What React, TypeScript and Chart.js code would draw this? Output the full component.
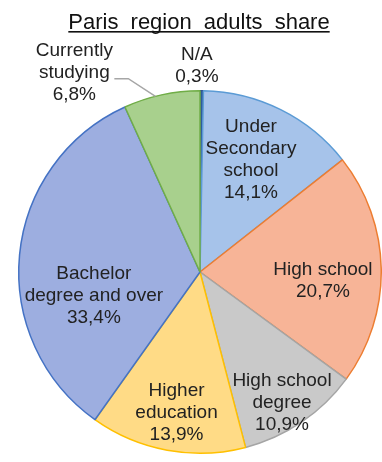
import React, { useEffect, useRef } from "react";
import { Chart, registerables } from "chart.js";

Chart.register(...registerables);

const title = "Paris region adults share";
const categories = [
  "N/A",
  "Under\nSecondary\nschool",
  "High school",
  "High school\ndegree",
  "Higher\neducation",
  "Bachelor\ndegree and over",
  "Currently\nstudying",
];
const values = [0.3, 14.1, 20.7, 10.9, 13.9, 33.4, 6.8];
const valueLabels = ["0,3%", "14,1%", "20,7%", "10,9%", "13,9%", "33,4%", "6,8%"];

const fillColors = ["#2E5C9E", "#A6C3EA", "#F7B497", "#C9C9C9", "#FFDB86", "#9DAEE0", "#A8D08D"];
const borderColors = ["#2F528F", "#5B9BD5", "#ED7D31", "#A5A5A5", "#FFC000", "#4472C4", "#70AD47"];
// label placement style: fraction of radius, angle offset (deg)
const labelRadius = [1.137, 0.68, 0.68, 0.85, 0.79, 0.6, 1.3];
const labelAngleOffset = [-1.4, -2, 5, 2, -1, -18, -20];

const labelPlugin = {
  id: "sliceLabels",
  afterDatasetsDraw(chart: any) {
    const ctx = chart.ctx as CanvasRenderingContext2D;
    const meta = chart.getDatasetMeta(0);
    ctx.save();
    ctx.font = "19px 'Liberation Sans', Arial, sans-serif";
    ctx.fillStyle = "#222222";
    ctx.textAlign = "center";
    ctx.textBaseline = "middle";
    const lh = 22;
    meta.data.forEach((arc: any, i: number) => {
      const p = arc.getProps(["x", "y", "startAngle", "endAngle", "outerRadius"], true);
      const mid = (p.startAngle + p.endAngle) / 2 + (labelAngleOffset[i] * Math.PI) / 180;
      const r = p.outerRadius * labelRadius[i];
      const cx = p.x + Math.cos(mid) * r;
      const cy = p.y + Math.sin(mid) * r;
      const lines = [...categories[i].split("\n"), valueLabels[i]];
      const top = cy - ((lines.length - 1) * lh) / 2;
      lines.forEach((ln, k) => ctx.fillText(ln, cx, top + k * lh));
      if (i === categories.length - 1) {
        // leader line
        const realMid = (p.startAngle + p.endAngle) / 2 - (2 * Math.PI) / 180;
        const ex = p.x + Math.cos(realMid) * p.outerRadius;
        const ey = p.y + Math.sin(realMid) * p.outerRadius;
        const sx = cx + 40;
        const sy = top + lh + 6;
        ctx.strokeStyle = "#A6A6A6";
        ctx.lineWidth = 1.5;
        ctx.beginPath();
        ctx.moveTo(sx, sy);
        ctx.lineTo(sx + 14, sy);
        ctx.lineTo(ex, ey);
        ctx.stroke();
      }
    });
    // title
    ctx.font = "22px 'Liberation Sans', Arial, sans-serif";
    ctx.fillStyle = "#111111";
    ctx.textBaseline = "alphabetic";
    (ctx as any).wordSpacing = "6px";
    const tw = ctx.measureText(title).width;
    const tx = 199;
    ctx.fillText(title, tx, 29);
    ctx.fillRect(tx - tw / 2, 31, tw, 1.6);
    ctx.restore();
  },
};

export default function App() {
  const ref = useRef<HTMLCanvasElement>(null);
  useEffect(() => {
    document.body.style.margin = "0";
    const chart = new Chart(ref.current!, {
      type: "pie",
      data: {
        labels: categories.map((c) => c.replace(/\n/g, " ")),
        datasets: [
          {
            data: values,
            backgroundColor: fillColors,
            borderColor: borderColors,
            borderWidth: 1.5,
          },
        ],
      },
      options: {
        responsive: false,
        animation: false,
        layout: { padding: { top: 90, bottom: 8, left: 18, right: 0 } },
        plugins: {
          legend: { display: false },
          tooltip: { enabled: false },
          title: { display: false },
        },
      },
      plugins: [labelPlugin],
    });
    return () => chart.destroy();
  }, []);
  return <canvas ref={ref} width={382} height={462} style={{ display: "block" }} />;
}
